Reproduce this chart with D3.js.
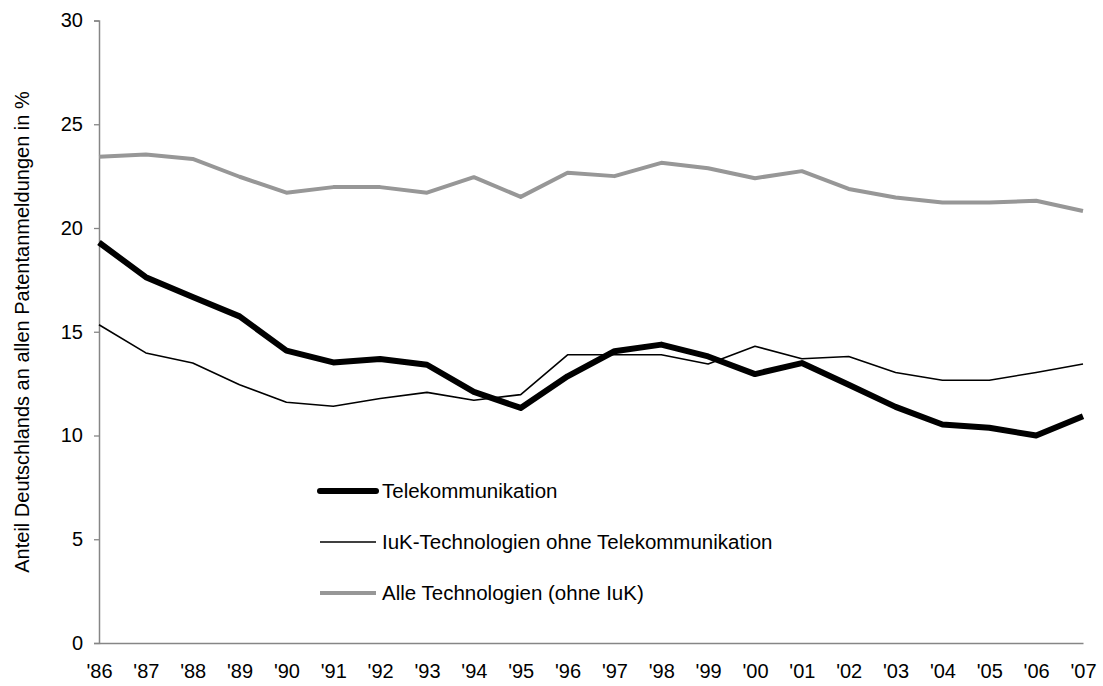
<!DOCTYPE html>
<html>
<head>
<meta charset="utf-8">
<script src="https://cdn.jsdelivr.net/npm/d3@7"></script>
<style>
  body { margin: 0; background: #fff; }
  svg text { font-family: "Liberation Sans", Arial, sans-serif; fill: #000; }
</style>
</head>
<body>
<div id="chart"></div>
<script>
const years = ["'86","'87","'88","'89","'90","'91","'92","'93","'94","'95","'96",
               "'97","'98","'99","'00","'01","'02","'03","'04","'05","'06","'07"];

const telekom = [19.3, 17.63, 16.67, 15.74, 14.09, 13.52, 13.69, 13.41, 12.1, 11.33, 12.85,
                 14.06, 14.38, 13.81, 12.96, 13.49, 12.45, 11.38, 10.53, 10.37, 10.0, 10.93];
const iuk = [15.34, 13.98, 13.49, 12.45, 11.6, 11.41, 11.78, 12.08, 11.7, 11.97, 13.89,
             13.89, 13.89, 13.45, 14.3, 13.7, 13.81, 13.04, 12.66, 12.66, 13.04, 13.45];
const alle = [23.43, 23.54, 23.33, 22.47, 21.7, 21.97, 21.97, 21.7, 22.45, 21.5, 22.66,
              22.5, 23.14, 22.88, 22.4, 22.74, 21.88, 21.47, 21.23, 21.23, 21.31, 20.82];

const yTicks = [0, 5, 10, 15, 20, 25, 30];
const seriesNames = ["Telekommunikation", "IuK-Technologien ohne Telekommunikation", "Alle Technologien (ohne IuK)"];

document.addEventListener('DOMContentLoaded', function() {
    const width = 1103, height = 686;
    const svg = d3.select("#chart").append("svg")
        .attr("width", width)
        .attr("height", height);

    const x = d3.scalePoint().domain(years).range([99, 1083]);
    const y = d3.scaleLinear().domain([0, 30]).range([643, 20.5]);

    const series = [
        { name: seriesNames[0], values: telekom, color: "#000", width: 6 },
        { name: seriesNames[1], values: iuk, color: "#000", width: 1.6 },
        { name: seriesNames[2], values: alle, color: "#979797", width: 4 }
    ];

    // y axis
    const yAxis = svg.append("g")
        .attr("transform", "translate(99,0)")
        .call(d3.axisLeft(y).tickValues(yTicks).tickSize(5).tickPadding(11));
    yAxis.select(".domain").attr("stroke", "#868686").attr("stroke-width", 1.5);
    yAxis.selectAll(".tick line").attr("stroke", "#868686").attr("stroke-width", 1.3);
    yAxis.selectAll(".tick text").style("font-size", "20px").attr("fill", "#000");

    // x axis
    const xAxis = svg.append("g")
        .attr("transform", "translate(0,643)")
        .call(d3.axisBottom(x).tickSize(0).tickPadding(21));
    xAxis.select(".domain").attr("stroke", "#868686").attr("stroke-width", 1.5);
    xAxis.selectAll(".tick text").style("font-size", "20px").attr("fill", "#000");

    // y title
    svg.append("text")
        .attr("transform", "translate(29,332) rotate(-90)")
        .attr("text-anchor", "middle")
        .style("font-size", "20px")
        .text("Anteil Deutschlands an allen Patentanmeldungen in %");

    const line = d3.line()
        .x((d, i) => x(years[i]))
        .y(d => y(d));

    // gray first, thin next, thick on top
    [series[2], series[1], series[0]].forEach(s => {
        svg.append("path")
            .datum(s.values)
            .attr("fill", "none")
            .attr("stroke", s.color)
            .attr("stroke-width", s.width)
            .attr("stroke-linejoin", "round")
            .attr("d", line);
    });

    // legend
    const legend = svg.append("g").attr("transform", "translate(320,491)");
    series.forEach((s, i) => {
        const g = legend.append("g").attr("transform", `translate(0,${i * 51})`);
        g.append("line")
            .attr("x1", 0).attr("x2", 56)
            .attr("stroke", s.color)
            .attr("stroke-width", s.width)
            .attr("stroke-linecap", i === 0 ? "round" : "butt");
        g.append("text")
            .attr("x", 62)
            .attr("dy", "0.35em")
            .style("font-size", "20.5px")
            .text(s.name);
    });
});
</script>
</body>
</html>
